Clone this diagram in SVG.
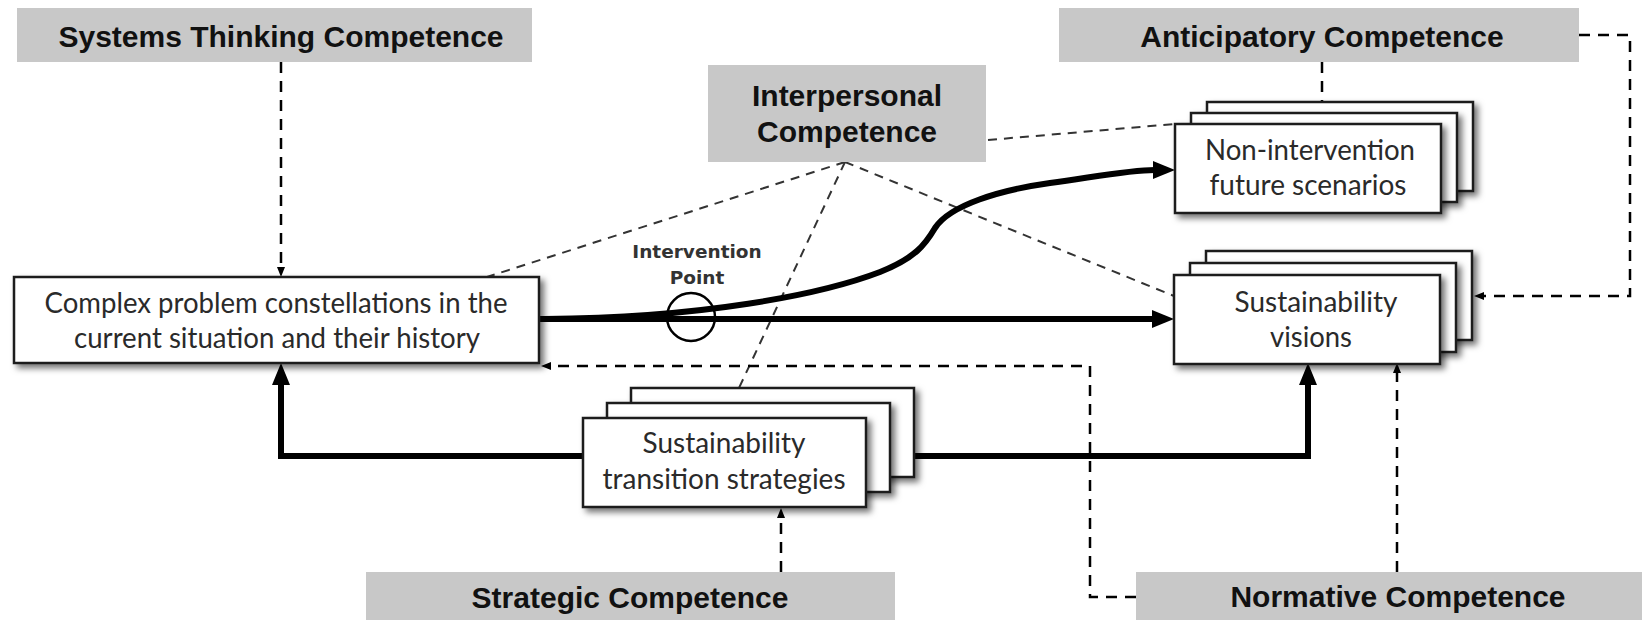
<svg xmlns="http://www.w3.org/2000/svg" width="1642" height="620" viewBox="0 0 1642 620">
<defs>
<filter id="sh" x="-10%" y="-10%" width="125%" height="130%">
<feDropShadow dx="4" dy="4" stdDeviation="3" flood-color="#000" flood-opacity="0.55"/>
</filter>
<marker id="thick" markerUnits="userSpaceOnUse" markerWidth="24" markerHeight="20" refX="2" refY="9" orient="auto">
<path d="M0,0 L22,9 L0,18 z" fill="#000"/>
</marker>
<marker id="small" markerUnits="userSpaceOnUse" markerWidth="12" markerHeight="10" refX="2" refY="4" orient="auto">
<path d="M0,0 L10,4 L0,8 z" fill="#000"/>
</marker>
</defs>
<style>
.comp{fill:#c8c8c8;stroke:none}
.lbl{font-family:"Liberation Sans",Arial,sans-serif;font-weight:bold;font-size:30px;fill:#111;text-anchor:middle}
.box{fill:#fff;stroke:#1a1a1a;stroke-width:2.5;filter:url(#sh)}
.txt{font-family:Lato,"Open Sans",sans-serif;font-size:29px;fill:#2a2a2a;text-anchor:middle}
.solid{fill:none;stroke:#000;stroke-width:6}
.dash{fill:none;stroke:#000;stroke-width:2.5;stroke-dasharray:11 8}
.dashthin{fill:none;stroke:#333;stroke-width:2;stroke-dasharray:9 7}
.ip{font-family:"DejaVu Sans",Verdana,sans-serif;font-weight:bold;font-size:18.5px;fill:#333;text-anchor:middle}
</style>
<rect width="1642" height="620" fill="#fff"/>

<g id="connectors">
<path class="dashthin" d="M845 162 L487 277"/>
<path class="dashthin" d="M845 162 L739 388"/>
<path class="dashthin" d="M845 162 L1174 296"/>
<path class="dashthin" d="M988 140 L1175 124"/>
<path class="dash" d="M281 62 V269" marker-end="url(#small)"/>
<path class="dash" d="M1322 62 V105" marker-end="url(#small)"/>
<path class="dash" d="M1579 35 H1630 V296 H1482" marker-end="url(#small)"/>
<path class="dash" d="M1397 572 V371" marker-end="url(#small)"/>
<path class="dash" d="M1136 597 H1090 V366 H549" marker-end="url(#small)"/>
<path class="dash" d="M781 572 V516" marker-end="url(#small)"/>
<path class="solid" d="M539 319 H1154" marker-end="url(#thick)"/>
<path class="solid" d="M545 319 C700 318 820 295 880 272 C915 258 925 245 935 228 C950 205 1000 190 1050 183 C1100 176 1130 170 1155 170" marker-end="url(#thick)"/>
<path class="solid" d="M600 456 H281 V383" marker-end="url(#thick)"/>
<path class="solid" d="M860 456 H1308 V383" marker-end="url(#thick)"/>
<circle cx="691" cy="317" r="24" fill="none" stroke="#000" stroke-width="2.5"/>
<text class="ip" x="697" y="258">Intervention</text>
<text class="ip" x="697" y="284">Point</text>
</g>

<g id="systems">
<rect class="comp" x="17" y="8" width="515" height="54"/>
<text class="lbl" x="281" y="47">Systems Thinking Competence</text>
</g>
<g id="anticipatory">
<rect class="comp" x="1059" y="8" width="520" height="54"/>
<text class="lbl" x="1322" y="47">Anticipatory Competence</text>
</g>
<g id="interpersonal">
<rect class="comp" x="708" y="65" width="278" height="97"/>
<text class="lbl" x="847" y="106">Interpersonal</text>
<text class="lbl" x="847" y="142">Competence</text>
</g>
<g id="strategic">
<rect class="comp" x="366" y="572" width="529" height="60"/>
<text class="lbl" x="630" y="608">Strategic Competence</text>
</g>
<g id="normative">
<rect class="comp" x="1136" y="572" width="520" height="60"/>
<text class="lbl" x="1398" y="607">Normative Competence</text>
</g>

<g id="complex">
<rect class="box" x="14" y="277" width="525" height="86"/>
<text class="txt" x="276" y="313" textLength="463" lengthAdjust="spacingAndGlyphs">Complex problem constellations in the</text>
<text class="txt" x="277" y="348" textLength="406" lengthAdjust="spacingAndGlyphs">current situation and their history</text>
</g>

<g id="nonintervention">
<rect class="box" x="1207" y="102" width="266" height="89"/>
<rect class="box" x="1191" y="113" width="266" height="89"/>
<rect class="box" x="1175" y="124" width="266" height="89"/>
<text class="txt" x="1310" y="160" textLength="210" lengthAdjust="spacingAndGlyphs">Non-intervention</text>
<text class="txt" x="1308" y="195" textLength="197" lengthAdjust="spacingAndGlyphs">future scenarios</text>
</g>

<g id="visions">
<rect class="box" x="1206" y="251" width="266" height="89"/>
<rect class="box" x="1190" y="263" width="266" height="89"/>
<rect class="box" x="1174" y="275" width="266" height="89"/>
<text class="txt" x="1316" y="312" textLength="163" lengthAdjust="spacingAndGlyphs">Sustainability</text>
<text class="txt" x="1311" y="347" textLength="82" lengthAdjust="spacingAndGlyphs">visions</text>
</g>

<g id="strategies">
<rect class="box" x="631" y="388" width="283" height="89"/>
<rect class="box" x="607" y="403" width="283" height="89"/>
<rect class="box" x="583" y="418" width="283" height="89"/>
<text class="txt" x="724" y="453" textLength="163" lengthAdjust="spacingAndGlyphs">Sustainability</text>
<text class="txt" x="724" y="489" textLength="243" lengthAdjust="spacingAndGlyphs">transition strategies</text>
</g>
</svg>
